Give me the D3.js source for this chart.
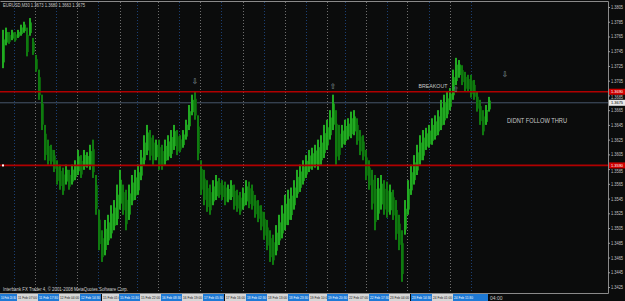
<!DOCTYPE html>
<html><head><meta charset="utf-8">
<script src="https://cdn.jsdelivr.net/npm/d3@7/dist/d3.min.js"></script>
<style>html,body{margin:0;padding:0;background:#0b0c0c;overflow:hidden}svg{display:block}</style>
</head><body><svg id="c" width="625" height="301"></svg>
<script>
// ---- data ----
const symbolHeader = "EURUSD,M30  1.3673 1.3680 1.3663 1.3675";
const copyright = "Interbank FX Trader 4, \u00A9 2001-2008 MetaQuotes Software Corp.";
const highs = [1.3774,1.3777,1.3771,1.3774,1.3771,1.3774,1.3781,1.3785,1.3777,1.3790,
1.3763,1.3740,1.3720,1.3686,1.3645,1.3625,1.3618,1.3611,1.3597,1.3591,
1.3587,1.3591,1.3584,1.3591,1.3597,1.3611,1.3604,1.3611,1.3608,1.3618,
1.3625,1.3577,1.3530,1.3502,1.3516,1.3523,1.3536,1.3543,1.3564,1.3584,
1.3564,1.3557,1.3564,1.3577,1.3584,1.3591,1.3611,1.3631,1.3645,1.3638,
1.3631,1.3625,1.3625,1.3618,1.3625,1.3631,1.3638,1.3645,1.3638,1.3631,
1.3638,1.3652,1.3672,1.3686,1.3690,1.3658,1.3597,1.3584,1.3570,1.3564,
1.3570,1.3577,1.3573,1.3570,1.3568,1.3564,1.3570,1.3564,1.3557,1.3554,
1.3560,1.3570,1.3568,1.3564,1.3550,1.3543,1.3536,1.3527,1.3516,1.3502,
1.3496,1.3509,1.3523,1.3536,1.3550,1.3557,1.3560,1.3570,1.3584,1.3591,
1.3597,1.3604,1.3611,1.3614,1.3618,1.3625,1.3631,1.3645,1.3652,1.3665,
1.3686,1.3665,1.3645,1.3645,1.3652,1.3654,1.3663,1.3665,1.3654,1.3638,
1.3631,1.3611,1.3597,1.3584,1.3577,1.3573,1.3577,1.3570,1.3568,1.3564,
1.3557,1.3543,1.3523,1.3502,1.3543,1.3570,1.3591,1.3604,1.3618,1.3631,
1.3638,1.3641,1.3645,1.3654,1.3658,1.3665,1.3679,1.3686,1.3690,1.3695,
1.3720,1.3736,1.3733,1.3726,1.3717,1.3713,1.3713,1.3706,1.3690,1.3679,
1.3665,1.3672,1.3683];
const lows = [1.3722,1.3753,1.3755,1.3760,1.3758,1.3763,1.3766,1.3770,1.3738,1.3766,
1.3740,1.3717,1.3679,1.3638,1.3597,1.3591,1.3591,1.3581,1.3564,1.3557,
1.3550,1.3564,1.3557,1.3564,1.3570,1.3577,1.3573,1.3584,1.3587,1.3584,
1.3573,1.3523,1.3475,1.3459,1.3468,1.3482,1.3491,1.3502,1.3509,1.3530,
1.3523,1.3502,1.3516,1.3536,1.3543,1.3550,1.3570,1.3591,1.3604,1.3597,
1.3591,1.3597,1.3584,1.3584,1.3591,1.3597,1.3600,1.3611,1.3604,1.3608,
1.3614,1.3625,1.3638,1.3658,1.3652,1.3597,1.3550,1.3536,1.3527,1.3523,
1.3536,1.3543,1.3546,1.3543,1.3536,1.3540,1.3543,1.3530,1.3527,1.3523,
1.3530,1.3536,1.3532,1.3530,1.3519,1.3513,1.3502,1.3489,1.3475,1.3459,
1.3455,1.3468,1.3482,1.3491,1.3502,1.3509,1.3516,1.3530,1.3546,1.3554,
1.3564,1.3573,1.3581,1.3584,1.3587,1.3584,1.3591,1.3600,1.3611,1.3625,
1.3638,1.3591,1.3597,1.3614,1.3618,1.3625,1.3627,1.3631,1.3618,1.3604,
1.3597,1.3570,1.3557,1.3530,1.3502,1.3516,1.3530,1.3523,1.3519,1.3523,
1.3516,1.3489,1.3475,1.3432,1.3496,1.3523,1.3550,1.3564,1.3577,1.3591,
1.3597,1.3611,1.3614,1.3618,1.3625,1.3631,1.3638,1.3645,1.3654,1.3665,
1.3679,1.3699,1.3709,1.3699,1.3690,1.3690,1.3682,1.3679,1.3663,1.3645,
1.3631,1.3645,1.3663];
const priceTicks = [1.3805,1.3785,1.3765,1.3745,1.3725,1.3705,1.3685,1.3665,1.3645,1.3625,
1.3605,1.3585,1.3565,1.3545,1.3525,1.3505,1.3485,1.3465,1.3445,1.3425];
const levelLines = [1.3690, 1.3590];
const currentPrice = 1.3675;
// time ticks expressed in bar units
const timeTickBars = [3.67,10.67,17.67,24.67,31.67,39,44.67,51.67,58.67,65.67,72.67,80,87,94,101,108,114,121,128,134.67,142,149,156];
const timeTickLabels = ["10 Feb 20:30","11 Feb 07:00","11 Feb 17:30","12 Feb 04:00","12 Feb 14:30","15 Feb 01:00","15 Feb 11:30","15 Feb 22:00","16 Feb 08:30","16 Feb 19:00","17 Feb 05:30","17 Feb 16:00","18 Feb 02:30","18 Feb 13:00","18 Feb 23:30","19 Feb 10:00","19 Feb 20:30","22 Feb 07:00","22 Feb 17:30","23 Feb 04:00","23 Feb 14:30","24 Feb 01:00","24 Feb 11:30"];
const lastTimeLabel = "04:00";
const arrowBars = [64, 110, 151, 167.3];
const arrowPrices = [1.3705, 1.3698, 1.3694, 1.3714];
const arrowGlyphs = ["\u21E9", "\u21E7", "\u21E7", "\u21E9"];
const noteTexts = ["BREAKOUT", "DIDNT FOLLOW THRU"];
const noteBars = [138.5, 168];
const notePrices = [1.3698, 1.3651];

// ---- layout ----
const W = 625, H = 301;
const plotRight = 608, plotBottom = 293;
const font = "Liberation Sans, Arial, sans-serif";
const svg = d3.select("#c");
svg.append("rect").attr("width", W).attr("height", H).attr("fill", "#0b0c0c");

const x = d3.scaleLinear().domain([0, highs.length - 1]).range([3, 489]);
const y = d3.scaleLinear().domain([1.3425, 1.3805]).range([287, 7]);

// vertical grid (alternating blue / grey dotted)
const grid = svg.append("g");
timeTickBars.forEach((b, i) => {
  const blue = i % 2 === 0;
  grid.append("line").attr("x1", Math.round(x(b)) + 0.5).attr("x2", Math.round(x(b)) + 0.5)
    .attr("y1", 2).attr("y2", plotBottom)
    .attr("stroke", blue ? "#1b3f73" : "#6e6e6e").attr("stroke-width", 1)
    .attr("stroke-dasharray", "1,2");
});

// current price grey line
svg.append("line").attr("x1", 0).attr("x2", plotRight).attr("y1", y(currentPrice)).attr("y2", y(currentPrice))
  .attr("stroke", "#46566a").attr("stroke-width", 1);

// bars
const bars = svg.append("g");
highs.forEach((h, i) => {
  const mid = (h + lows[i]) / 2;
  const prevMid = i > 0 ? (highs[i - 1] + lows[i - 1]) / 2 : mid;
  const up = mid >= prevMid;
  bars.append("rect")
    .attr("x", x(i) - 1).attr("width", 2)
    .attr("y", y(h)).attr("height", Math.max(1, y(lows[i]) - y(h)))
    .attr("fill", up ? "#22aa22" : "#0f7a0f");
  bars.append("line")
    .attr("x1", x(i) + 1.5).attr("x2", x(i) + 1.5)
    .attr("y1", y(h) + (y(lows[i]) - y(h)) * 0.25).attr("y2", y(lows[i]) - (y(lows[i]) - y(h)) * 0.15)
    .attr("stroke", up ? "#138a13" : "#0a5e0a").attr("stroke-width", 1);
});

// red level lines
levelLines.forEach(p => {
  svg.append("line").attr("x1", 0).attr("x2", plotRight).attr("y1", y(p)).attr("y2", y(p))
    .attr("stroke", "#b00000").attr("stroke-width", 1.6);
});
svg.append("rect").attr("x", 2).attr("y", y(levelLines[1]) - 1).attr("width", 2).attr("height", 2).attr("fill", "#ffffff");

// frame
svg.append("path").attr("d", `M0.5,1.5H${plotRight + 0.5}V${plotBottom + 0.5}H0`)
  .attr("fill", "none").attr("stroke", "#8a8a8a").attr("stroke-width", 1);

// price axis
const tagged = levelLines.concat([currentPrice]);
const axis = svg.append("g").attr("transform", `translate(${plotRight},0)`)
  .call(d3.axisRight(y).tickValues(priceTicks).tickFormat(d3.format(".4f")).tickSize(2).tickPadding(1));
axis.select(".domain").remove();
axis.selectAll(".tick line").attr("stroke", "#9a9a9a");
axis.selectAll(".tick text").attr("fill", "#c4c4c4").attr("font-size", 4.6)
  .attr("font-family", font)
  .attr("textLength", 12).attr("lengthAdjust", "spacingAndGlyphs")
  .attr("dy", d => {
    const near = tagged.some(p => p > d && y(d) - y(p) < 6);
    return near ? "0.65em" : "0.32em";
  });

// price tags
function tag(p, bg, fg) {
  svg.append("rect").attr("x", 609).attr("y", y(p) - 3).attr("width", 16).attr("height", 6).attr("fill", bg);
  svg.append("text").attr("x", 611).attr("y", y(p) + 1.5).text(d3.format(".4f")(p))
    .attr("fill", fg).attr("font-size", 4.4).attr("font-family", font)
    .attr("textLength", 12).attr("lengthAdjust", "spacingAndGlyphs");
}
levelLines.forEach(p => tag(p, "#d00000", "#ffffff"));
tag(currentPrice, "#e8e8e8", "#000000");

// time labels
const tl = svg.append("g");
timeTickBars.forEach((b, i) => {
  const blue = i % 2 === 0;
  const xr = Math.round(x(b)) + 3;
  const x0 = Math.max(0, xr - 21);
  tl.append("rect").attr("x", x0).attr("y", 294).attr("width", xr - x0).attr("height", 7)
    .attr("fill", blue ? "#1e7ad6" : "#d6d6d6");
  tl.append("text").attr("x", x0 + 1).attr("y", 299.3).text(timeTickLabels[i])
    .attr("fill", blue ? "#ffffff" : "#222222").attr("font-size", 3)
    .attr("font-family", font)
    .attr("textLength", xr - x0 - 2).attr("lengthAdjust", "spacingAndGlyphs");
});
{
  const xs = Math.round(x(timeTickBars[timeTickBars.length - 1])) + 3;
  tl.append("rect").attr("x", xs).attr("y", 294).attr("width", 14).attr("height", 7).attr("fill", "#1e7ad6");
  tl.append("text").attr("x", xs + 16).attr("y", 299.5).text(lastTimeLabel)
    .attr("fill", "#c4c4c4").attr("font-size", 5).attr("font-family", font);
}

// header & copyright
svg.append("text").attr("x", 3).attr("y", 7).text(symbolHeader).attr("fill", "#c8c8c8")
  .attr("font-size", 5).attr("font-family", font)
  .attr("textLength", 82).attr("lengthAdjust", "spacingAndGlyphs");
svg.append("text").attr("x", 3).attr("y", 290.5).text(copyright).attr("fill", "#d0d0d0")
  .attr("font-size", 4.5).attr("font-family", font)
  .attr("textLength", 125).attr("lengthAdjust", "spacingAndGlyphs");

// arrows
arrowBars.forEach((b, i) => {
  svg.append("text").attr("x", x(b)).attr("y", y(arrowPrices[i]) + 3).attr("text-anchor", "middle")
    .text(arrowGlyphs[i]).attr("fill", "#8fa0a8").attr("font-size", 7.5)
    .attr("font-family", "DejaVu Sans, sans-serif");
});
// notes
noteTexts.forEach((t, i) => {
  svg.append("text").attr("x", x(noteBars[i])).attr("y", y(notePrices[i]) + 2.5).text(t)
    .attr("fill", "#c8c8c8").attr("font-size", i === 0 ? 6.2 : 6.8).attr("font-family", font)
    .attr("textLength", i === 0 ? 29 : 60).attr("lengthAdjust", "spacingAndGlyphs");
});
</script></body></html>
